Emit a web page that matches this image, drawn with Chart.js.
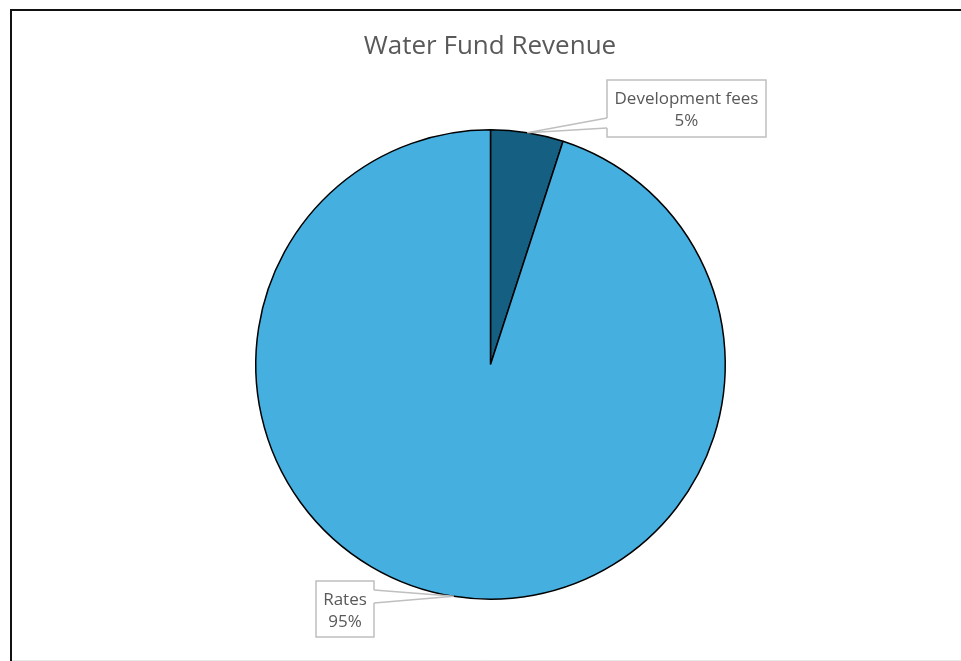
<!DOCTYPE html>
<html>
<head>
<meta charset="utf-8">
<script src="https://cdn.jsdelivr.net/npm/chart.js@4.4.1/dist/chart.umd.min.js"></script>
<style>
  html, body { margin: 0; padding: 0; background: #fff; }
  #wrap { position: relative; width: 961px; height: 661px; }
</style>
</head>
<body>
<div id="wrap"><canvas id="c" width="961" height="661"></canvas></div>
<script>
const chartTitle = 'Water Fund Revenue';
const categories = ['Development fees', 'Rates'];
const shares = [5, 95];
const percentLabels = ['5%', '95%'];
const sliceColors = ['#156082', '#45AFE0'];

const textColor = '#595959';
const fontFamily = '"Open Sans", "Noto Sans", sans-serif';

// callout boxes: position relative to canvas (style only)
const calloutBoxes = [
  { x: 607, y: 80, w: 159, h: 57, side: 'left', e1: 38, e2: 48 },
  { x: 316, y: 581, w: 58, h: 56, side: 'right', e1: 9, e2: 22 }
];

const framePlugin = {
  id: 'frame',
  beforeDraw(chart) {
    const ctx = chart.ctx;
    ctx.save();
    ctx.fillStyle = '#fff';
    ctx.fillRect(0, 0, chart.width, chart.height);
    ctx.strokeStyle = '#e8e8e8';
    ctx.lineWidth = 1;
    ctx.beginPath();
    ctx.moveTo(12, 660.5);
    ctx.lineTo(961, 660.5);
    ctx.stroke();
    ctx.strokeStyle = '#111';
    ctx.lineWidth = 2;
    ctx.beginPath();
    ctx.moveTo(11, 661);
    ctx.lineTo(11, 10);
    ctx.lineTo(961, 10);
    ctx.stroke();
    ctx.restore();
  }
};

const calloutPlugin = {
  id: 'callouts',
  afterDraw(chart) {
    const ctx = chart.ctx;
    const meta = chart.getDatasetMeta(0);
    ctx.save();
    // title
    ctx.fillStyle = textColor;
    ctx.font = '26px ' + fontFamily;
    ctx.textAlign = 'center';
    ctx.textBaseline = 'middle';
    ctx.fillText(chartTitle, 490, 47);

    meta.data.forEach((arc, i) => {
      const b = calloutBoxes[i];
      const mid = (arc.startAngle + arc.endAngle) / 2;
      const tx = arc.x + Math.cos(mid) * arc.outerRadius;
      const ty = arc.y + Math.sin(mid) * arc.outerRadius;
      // box
      ctx.fillStyle = '#fff';
      ctx.fillRect(b.x, b.y, b.w, b.h);
      ctx.strokeStyle = '#BFBFBF';
      ctx.lineWidth = 1.5;
      ctx.strokeRect(b.x, b.y, b.w, b.h);
      const ex = b.side === 'left' ? b.x : b.x + b.w;
      const inward = b.side === 'left' ? 1.5 : -1.5;
      // wedge
      ctx.beginPath();
      ctx.moveTo(tx, ty);
      ctx.lineTo(ex + inward, b.y + b.e1);
      ctx.lineTo(ex + inward, b.y + b.e2);
      ctx.closePath();
      ctx.fillStyle = '#fff';
      ctx.fill();
      ctx.beginPath();
      ctx.moveTo(ex, b.y + b.e1);
      ctx.lineTo(tx, ty);
      ctx.lineTo(ex, b.y + b.e2);
      ctx.stroke();
      // text
      ctx.fillStyle = textColor;
      ctx.font = '17px ' + fontFamily;
      ctx.textAlign = 'center';
      ctx.textBaseline = 'middle';
      const cx = b.x + b.w / 2;
      ctx.fillText(categories[i], cx, b.y + 19);
      ctx.fillText(percentLabels[i], cx, b.y + 41);
    });
    ctx.restore();
  }
};

new Chart(document.getElementById('c'), {
  type: 'pie',
  data: {
    labels: categories,
    datasets: [{
      data: shares,
      backgroundColor: sliceColors,
      borderColor: '#000',
      borderWidth: 1.5
    }]
  },
  options: {
    responsive: false,
    animation: false,
    layout: { padding: { left: 255, right: 235, top: 129, bottom: 61 } },
    plugins: {
      legend: { display: false },
      title: { display: false },
      tooltip: { enabled: false }
    }
  },
  plugins: [framePlugin, calloutPlugin]
});
</script>
</body>
</html>
